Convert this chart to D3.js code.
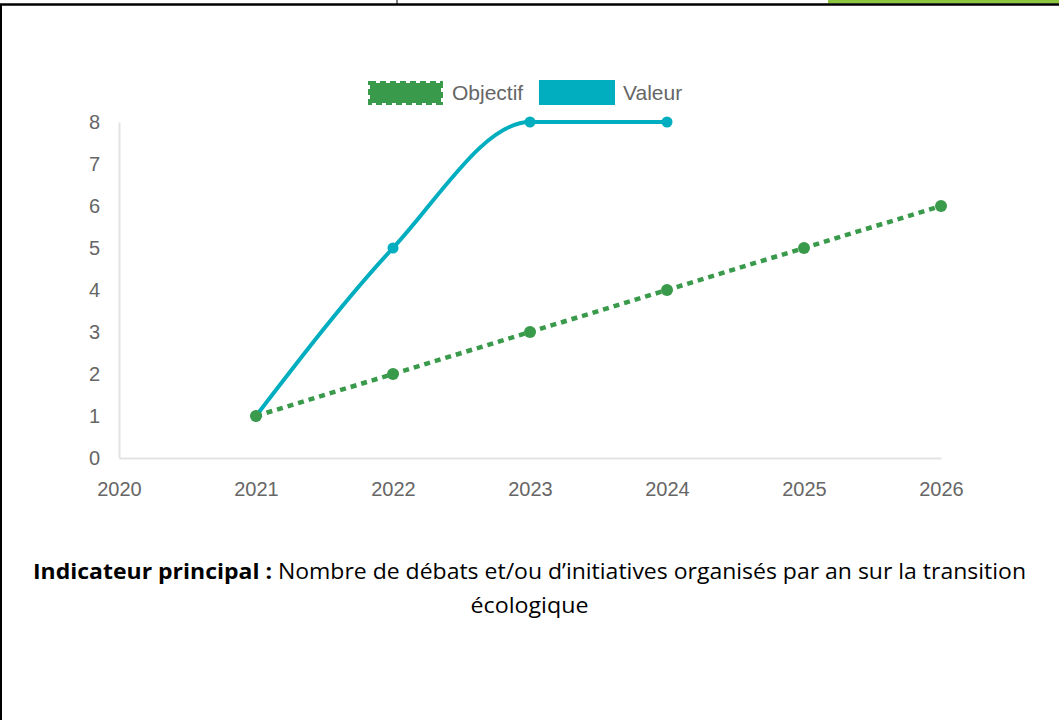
<!DOCTYPE html>
<html><head><meta charset="utf-8">
<script src="https://cdn.jsdelivr.net/npm/d3@7"></script>
<style>body{margin:0;background:#fff;}svg{display:block;}</style>
</head><body>
<svg id="c" width="1059" height="720"></svg>
<script>
const years = [2020, 2021, 2022, 2023, 2024, 2025, 2026];
const yTicks = [0, 1, 2, 3, 4, 5, 6, 7, 8];
const objectifYears = [2021, 2022, 2023, 2024, 2025, 2026];
const objectifValues = [1, 2, 3, 4, 5, 6];
const valeurYears = [2021, 2022, 2023, 2024];
const valeurValues = [1, 5, 8, 8];
const legendLabels = ["Objectif", "Valeur"];

const green = "#3a9a4b", teal = "#00aebf", txt = "#666";
const svg = d3.select("#c");

// page frame
svg.append("rect").attr("x",828).attr("y",0).attr("width",231).attr("height",3.5).attr("fill","#8cc63f");
svg.append("line").attr("x1",0).attr("x2",1059).attr("y1",4.5).attr("y2",4.5).attr("stroke","#000").attr("stroke-width",2.5);
svg.append("line").attr("x1",397).attr("x2",397).attr("y1",0).attr("y2",4).attr("stroke","#000").attr("stroke-width",1);
svg.append("line").attr("x1",1).attr("x2",1).attr("y1",4).attr("y2",720).attr("stroke","#000").attr("stroke-width",2);

const x = d3.scaleLinear().domain([2020, 2026]).range([119, 941]);
const y = d3.scaleLinear().domain([0, 8]).range([458, 122]);

// axes
const xAxis = d3.axisBottom(x).tickValues(years).tickFormat(d3.format("d")).tickSize(0).tickPadding(24);
const gx = svg.append("g").attr("transform","translate(0,458)").call(xAxis);
gx.select(".domain").attr("stroke","#e3e3e3").attr("stroke-width",2);
gx.selectAll("text").attr("fill",txt).style("font-family","Liberation Sans, Arial").style("font-size","20px");

const yAxis = d3.axisLeft(y).tickValues(yTicks).tickSize(0).tickPadding(19);
const gy = svg.append("g").attr("transform","translate(119,0)").call(yAxis);
gy.select(".domain").attr("stroke","#e3e3e3").attr("stroke-width",2);
gy.selectAll("text").attr("fill",txt).style("font-family","Liberation Sans, Arial").style("font-size","20px");

// Objectif line
const obj = objectifYears.map((d,i)=>({x:d,y:objectifValues[i]}));
const val = valeurYears.map((d,i)=>({x:d,y:valeurValues[i]}));
svg.append("path").datum(obj)
  .attr("d", d3.line().x(d=>x(d.x)).y(d=>y(d.y)))
  .attr("fill","none").attr("stroke",green).attr("stroke-width",4.5).attr("stroke-dasharray","6,5");
svg.append("path").datum(val)
  .attr("d", d3.line().curve(d3.curveMonotoneX).x(d=>x(d.x)).y(d=>y(d.y)))
  .attr("fill","none").attr("stroke",teal).attr("stroke-width",4);
svg.selectAll("circle.v").data(val).enter().append("circle").attr("class","v")
  .attr("cx",d=>x(d.x)).attr("cy",d=>y(d.y)).attr("r",5.5).attr("fill",teal);
svg.selectAll("circle.o").data(obj).enter().append("circle").attr("class","o")
  .attr("cx",d=>x(d.x)).attr("cy",d=>y(d.y)).attr("r",6).attr("fill",green);

// legend
const lg = svg.append("g");
lg.append("rect").attr("x",370).attr("y",83).attr("width",71).attr("height",20)
  .attr("fill",green).attr("stroke",green).attr("stroke-width",4).attr("stroke-dasharray","6,4");
lg.append("text").attr("x",452).attr("y",100).text(legendLabels[0])
  .attr("fill",txt).style("font-family","Liberation Sans, Arial").style("font-size","21px");
lg.append("rect").attr("x",539).attr("y",80).attr("width",76).attr("height",25).attr("fill",teal);
lg.append("text").attr("x",623).attr("y",100).text(legendLabels[1])
  .attr("fill",txt).style("font-family","Liberation Sans, Arial").style("font-size","21px");

// caption
const capFont = "Liberation Sans Narrow, Open Sans, Noto Sans, sans-serif";
const cap = svg.append("text").attr("x",529.5).attr("y",579).attr("text-anchor","middle")
  .style("font-family",capFont).style("font-size","21px").attr("fill","#000")
  .attr("textLength",993).attr("lengthAdjust","spacingAndGlyphs");
cap.append("tspan").attr("font-weight","bold").text("Indicateur principal :");
cap.append("tspan").text(" Nombre de débats et/ou d’initiatives organisés par an sur la transition");
svg.append("text").attr("x",529.5).attr("y",613).attr("text-anchor","middle")
  .style("font-family",capFont).style("font-size","21px").attr("fill","#000")
  .attr("textLength",118).attr("lengthAdjust","spacingAndGlyphs")
  .text("écologique");
</script>
</body></html>
